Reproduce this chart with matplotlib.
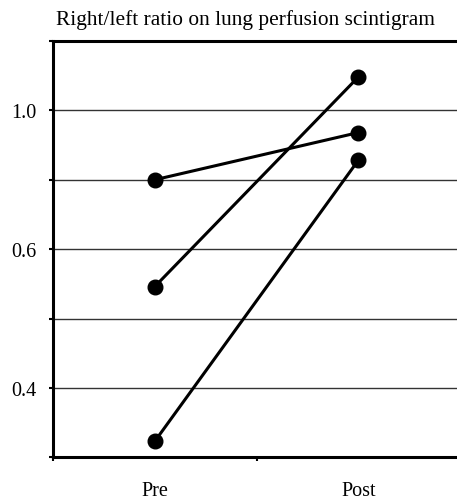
import numpy as np
import matplotlib
matplotlib.use("Agg")
import matplotlib.pyplot as plt

title = "Right/left ratio on lung perfusion scintigram"
categories = ["Pre", "Post"]
pre_values = [0.80, 0.546, 0.323]
post_values = [0.936, 1.096, 0.856]

# axis gridline values (equally spaced on the chart)
grid_values = [0.3, 0.4, 0.5, 0.6, 0.8, 1.0, 1.2]
tick_labels = ["", "0.4", "", "0.6", "", "1.0", ""]

plt.rcParams["font.family"] = ["Liberation Serif", "DejaVu Serif"]

W, H = 457, 502
fig = plt.figure(figsize=(W / 100, H / 100), dpi=100)
ax = fig.add_axes([53 / W, 1 - 458.3 / H, (460 - 53) / W, (458.3 - 42) / H])

gv = np.array(grid_values)
gi = np.arange(len(grid_values), dtype=float)
ax.set_yscale("function", functions=(lambda v: np.interp(v, gv, gi),
                                      lambda p: np.interp(p, gi, gv)))
ax.set_ylim(grid_values[0], grid_values[-1])
ax.set_xlim(0, len(categories))

xs = np.arange(len(categories)) + 0.5
for a, b in zip(pre_values, post_values):
    ax.plot(xs, [a, b], color="black", lw=2.2, marker="o", ms=10.5,
            solid_capstyle="round", zorder=3, clip_on=False)

for v in grid_values[1:-1]:
    ax.axhline(v, color="#333333", lw=1.0, zorder=1)

ax.set_yticks(grid_values)
ax.set_yticklabels(tick_labels)
ax.tick_params(axis="y", length=3, width=1.5, pad=9, labelsize=14.5,
               direction="out")

ax.set_xticks(np.arange(len(categories) + 1))
ax.set_xticklabels([])
ax.set_xticks(xs, minor=True)
ax.set_xticklabels(categories, minor=True)
ax.tick_params(axis="x", which="major", length=3, width=1.5, direction="out")
ax.tick_params(axis="x", which="minor", length=0, pad=17, labelsize=14.5)

for s in ax.spines.values():
    s.set_linewidth(2.2)
    s.set_color("black")

fig.text(245 / W, 1 - 20 / H, title, ha="center", va="center", fontsize=15.4)

fig.savefig("out.png", dpi=100)
